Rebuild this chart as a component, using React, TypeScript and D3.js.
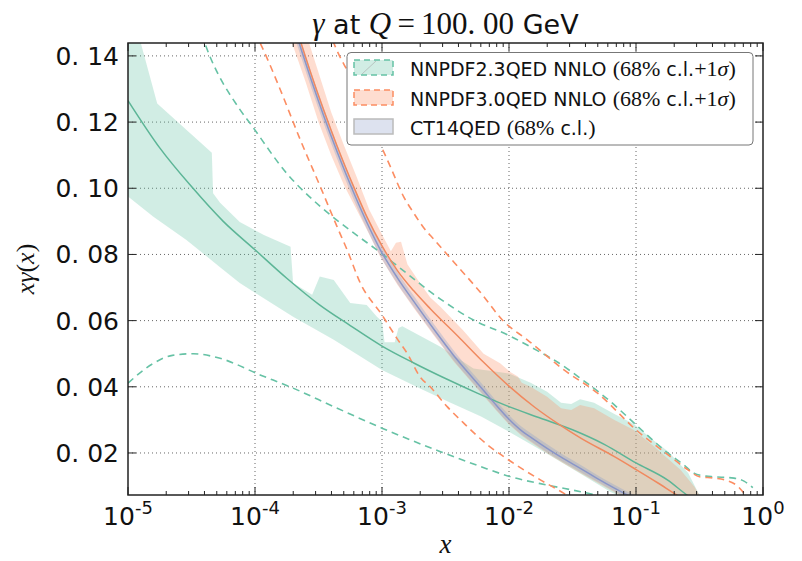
import React from 'react';
import * as d3 from 'd3';

const W = 802;
const H = 561;
const PL = 128, PR = 763, PT = 43, PB = 495;

const xTickExps = [-5, -4, -3, -2, -1, 0];
const yTicks = [0.02, 0.04, 0.06, 0.08, 0.1, 0.12, 0.14];
const yTickLabels = ['0. 02', '0. 04', '0. 06', '0. 08', '0. 10', '0. 12', '0. 14'];

// NNPDF2.3QED central (log10 x, x*gamma)
const nn23CLogX = [-5, -4.75, -4.5, -4.25, -4, -3.75, -3.5, -3.25, -3, -2.75, -2.5, -2.25, -2, -1.75, -1.5, -1.25, -1, -0.75, -0.62, -0.5];
const nn23C = [0.1265, 0.1122, 0.1005, 0.09, 0.0814, 0.0728, 0.065, 0.0585, 0.0523, 0.0472, 0.0425, 0.0381, 0.034, 0.0305, 0.027, 0.0226, 0.017, 0.0118, 0.0079, 0.0045];
// NNPDF2.3QED 68% band
const nn23UpLogX = [-5.0, -4.9, -4.77, -4.34, -4.33, -4.275, -4.12, -3.93, -3.72, -3.7, -3.55, -3.49, -3.38, -3.25, -3.12, -3.04, -3.0, -2.98, -2.9, -2.87, -2.84, -2.54, -2.28, -2.0, -1.83, -1.7, -1.59, -1.51, -1.44, -1.33, -1.17, -1.02, -0.86, -0.75, -0.59, -0.51, -0.45];
const nn23Up = [0.152, 0.144, 0.1256, 0.1107, 0.0985, 0.0956, 0.0898, 0.0859, 0.0823, 0.0714, 0.0678, 0.0733, 0.0723, 0.0653, 0.0647, 0.0612, 0.0597, 0.0535, 0.0535, 0.0578, 0.0583, 0.0521, 0.0455, 0.044, 0.0412, 0.0385, 0.0352, 0.0348, 0.0362, 0.0352, 0.0318, 0.0288, 0.0238, 0.0205, 0.014, 0.008, 0.005];
const nn23LoLogX = [-5.0, -4.8, -4.54, -4.28, -4.12, -4.0, -3.7, -3.38, -3.0, -2.7, -2.46, -2.22, -1.99, -1.88, -1.7, -1.45, -1.2, -1.0, -0.6, -0.45];
const nn23Lo = [0.0975, 0.0914, 0.0844, 0.0763, 0.0714, 0.0684, 0.0612, 0.0542, 0.0451, 0.0395, 0.0352, 0.031, 0.0262, 0.0238, 0.0198, 0.014, 0.0082, 0.0048, 0.002, 0.001];
// NNPDF2.3QED +-1 sigma (dashed)
const nn23SigUpLogX = [-4.45, -4.39, -4.117, -4.04, -3.75, -3.486, -3.226, -3.0, -2.855, -2.54, -2.28, -2.0, -1.78, -1.62, -1.435, -1.2, -1.0, -0.75, -0.623, -0.544, -0.45, -0.387, -0.228, -0.15, -0.08];
const nn23SigUp = [0.15, 0.1433, 0.1237, 0.1197, 0.1045, 0.0945, 0.0866, 0.0802, 0.0758, 0.0665, 0.0602, 0.0555, 0.051, 0.0475, 0.0425, 0.0355, 0.0285, 0.02, 0.0164, 0.0139, 0.013, 0.0128, 0.0124, 0.0115, 0.0095];
const nn23SigLoLogX = [-5.0, -4.8, -4.65, -4.485, -4.275, -3.96, -3.7, -3.38, -3.0, -2.54, -2.224, -1.987, -1.7, -1.435, -1.3];
const nn23SigLo = [0.0411, 0.0471, 0.0495, 0.05, 0.0486, 0.0436, 0.0396, 0.034, 0.0275, 0.0204, 0.0159, 0.0128, 0.0103, 0.0083, 0.0072];

// NNPDF3.0QED central
const nn30CLogX = [-3.72, -3.66, -3.565, -3.46, -3.354, -3.22, -3.117, -3.0, -2.88, -2.75, -2.62, -2.4, -2.2, -2.0, -1.8, -1.6, -1.435, -1.17, -1.0, -0.83, -0.7, -0.6];
const nn30C = [0.1537, 0.1465, 0.1353, 0.1237, 0.1128, 0.1002, 0.0912, 0.0826, 0.0752, 0.069, 0.0636, 0.0552, 0.0474, 0.0402, 0.0339, 0.0285, 0.0245, 0.0189, 0.015, 0.011, 0.0078, 0.0054];
// NNPDF3.0QED 68% band
const nn30UpLogX = [-3.85, -3.7, -3.6, -3.5, -3.4, -3.3, -3.2, -3.1, -3.0, -2.93, -2.89, -2.85, -2.8, -2.7, -2.62, -2.54, -2.36, -2.2, -2.07, -1.99, -1.93, -1.9, -1.83, -1.7, -1.59, -1.51, -1.44, -1.33, -1.17, -1.02, -0.86, -0.65, -0.54, -0.48];
const nn30Up = [0.168, 0.156, 0.147, 0.135, 0.123, 0.113, 0.1035, 0.0935, 0.086, 0.081, 0.0835, 0.0838, 0.077, 0.0713, 0.067, 0.0642, 0.057, 0.05, 0.0471, 0.0445, 0.0431, 0.0412, 0.04, 0.037, 0.0335, 0.033, 0.0345, 0.0335, 0.03, 0.027, 0.022, 0.0149, 0.0098, 0.006];
const nn30LoLogX = [-3.85, -3.7, -3.6, -3.5, -3.4, -3.3, -3.2, -3.1, -3.013, -2.88, -2.75, -2.59, -2.434, -2.277, -2.2, -2.1, -2.0, -1.9, -1.83, -1.7, -1.567, -1.435, -1.3, -1.17, -1.0];
const nn30Lo = [0.154, 0.143, 0.132, 0.12, 0.11, 0.101, 0.0935, 0.086, 0.0792, 0.0709, 0.0638, 0.0554, 0.0476, 0.0406, 0.0372, 0.0328, 0.0286, 0.0252, 0.0233, 0.0199, 0.0168, 0.0139, 0.0109, 0.0081, 0.0047];
// NNPDF3.0QED +-1 sigma (dashed)
const nn30SigUpLogX = [-3.42, -3.368, -3.25, -3.04, -2.935, -2.83, -2.75, -2.67, -2.59, -2.43, -2.224, -2.04, -1.856, -1.567, -1.3, -1.0, -0.75, -0.594, -0.5, -0.384, -0.28, -0.2, -0.147, -0.1];
const nn30SigUp = [0.148, 0.1428, 0.1338, 0.1156, 0.1066, 0.0975, 0.0925, 0.088, 0.0845, 0.0775, 0.0685, 0.0597, 0.0542, 0.0451, 0.038, 0.027, 0.0195, 0.015, 0.0128, 0.0124, 0.0116, 0.01, 0.0078, 0.006];
const nn30SigLoLogX = [-4.0, -3.946, -3.8, -3.643, -3.486, -3.354, -3.275, -3.17, -3.0, -2.88, -2.8, -2.7, -2.62, -2.487, -2.356, -2.17, -2.0, -1.75, -1.567, -1.5];
const nn30SigLo = [0.147, 0.1428, 0.1297, 0.1146, 0.1005, 0.0884, 0.0814, 0.0713, 0.0617, 0.0545, 0.05, 0.043, 0.04, 0.034, 0.029, 0.0225, 0.0178, 0.0118, 0.0078, 0.0062];

// CT14QED central and 68% band
const ctLogX = [-3.72, -3.66, -3.565, -3.46, -3.354, -3.22, -3.117, -3.013, -2.88, -2.75, -2.59, -2.434, -2.277, -2.2, -2.1, -2.0, -1.9, -1.83, -1.7, -1.567, -1.435, -1.3, -1.17, -1.0, -0.9];
const ctC = [0.1519, 0.1448, 0.1336, 0.122, 0.1111, 0.0984, 0.0895, 0.0814, 0.073, 0.0658, 0.0573, 0.0494, 0.0423, 0.0389, 0.0344, 0.0302, 0.0267, 0.0248, 0.0214, 0.0182, 0.0153, 0.0122, 0.0094, 0.006, 0.0042];
const ctUp = [0.1544, 0.1473, 0.136, 0.1243, 0.1133, 0.1005, 0.0915, 0.0833, 0.0748, 0.0675, 0.0589, 0.0509, 0.0437, 0.0403, 0.0357, 0.0315, 0.0279, 0.026, 0.0226, 0.0193, 0.0164, 0.0132, 0.0104, 0.007, 0.0052];
const ctLo = [0.1494, 0.1423, 0.1312, 0.1197, 0.1089, 0.0963, 0.0875, 0.0795, 0.0712, 0.0641, 0.0557, 0.0479, 0.0409, 0.0375, 0.0331, 0.0289, 0.0255, 0.0236, 0.0202, 0.0171, 0.0142, 0.0112, 0.0084, 0.005, 0.0032];

const legendLabels = ['NNPDF2.3QED NNLO ', 'NNPDF3.0QED NNLO ', 'CT14QED '];

const GREEN = '#66c2a5';
const GREEN_LINE = '#5cb596';
const ORANGE = '#fc8d62';
const ORANGE_LINE = '#f0895f';
const PURPLE = '#8da0cb';
const PURPLE_LINE = '#8a96c8';

const SANS = 'DejaVu Sans, sans-serif';
const SERIF = 'Liberation Serif, DejaVu Serif, serif';

export default function App() {
  const x = d3.scaleLog().domain([1e-5, 1]).range([PL, PR]);
  const y = d3.scaleLinear().domain([0.0073, 0.1439]).range([PB, PT]);

  const pts = (lx: number[], v: number[]): [number, number][] =>
    lx.map((l, i) => [x(Math.pow(10, l)), y(v[i])] as [number, number]);
  const smooth = d3.line().curve(d3.curveMonotoneX);
  const straight = d3.line();
  const band = (ulx: number[], uv: number[], llx: number[], lv: number[]) =>
    (straight([...pts(ulx, uv), ...pts(llx, lv).reverse()]) || '') + 'Z';
  const smoothBand = (ulx: number[], uv: number[], llx: number[], lv: number[]) => {
    const a = smooth(pts(ulx, uv)) || '';
    const lo = pts(llx, lv);
    const rev = d3.line().curve(d3.curveMonotoneX)(lo.slice().reverse()) || '';
    return a + 'L' + rev.slice(1) + 'Z';
  };

  const minorTicks: number[] = [];
  for (let k = -5; k < 0; k++) for (let m = 2; m <= 9; m++) minorTicks.push(m * Math.pow(10, k));

  const dash = '7,5';

  return (
    <svg width={W} height={H} style={{ position: 'fixed', left: 0, top: 0, background: '#fff' }}>
      <defs>
        <clipPath id="plot">
          <rect x={PL} y={PT} width={PR - PL} height={PB - PT} />
        </clipPath>
      </defs>
      <rect x={0} y={0} width={W} height={H} fill="#fff" />

      {/* grid */}
      <g stroke="#666" strokeWidth={1} strokeDasharray="1,3">
        {xTickExps.slice(1, -1).map((e) => (
          <line key={'gx' + e} x1={x(Math.pow(10, e))} x2={x(Math.pow(10, e))} y1={PT} y2={PB} />
        ))}
        {yTicks.map((t) => (
          <line key={'gy' + t} x1={PL} x2={PR} y1={y(t)} y2={y(t)} />
        ))}
      </g>

      <g clipPath="url(#plot)">
        <path d={band(nn23UpLogX, nn23Up, nn23LoLogX, nn23Lo)} fill={GREEN} fillOpacity={0.3} />
        <path d={band(nn30UpLogX, nn30Up, nn30LoLogX, nn30Lo)} fill={ORANGE} fillOpacity={0.3} />
        <path d={smoothBand(ctLogX, ctUp, ctLogX, ctLo)} fill={PURPLE} fillOpacity={0.35} />

        <g fill="none" strokeWidth={1.6} strokeDasharray={dash}>
          <path d={smooth(pts(nn23SigUpLogX, nn23SigUp)) || ''} stroke={GREEN} />
          <path d={smooth(pts(nn23SigLoLogX, nn23SigLo)) || ''} stroke={GREEN} />
          <path d={smooth(pts(nn30SigUpLogX, nn30SigUp)) || ''} stroke={ORANGE} />
          <path d={smooth(pts(nn30SigLoLogX, nn30SigLo)) || ''} stroke={ORANGE} />
        </g>

        <g fill="none" strokeWidth={1.5}>
          <path d={smooth(pts(nn23CLogX, nn23C)) || ''} stroke={GREEN_LINE} />
          <path d={smooth(pts(nn30CLogX, nn30C)) || ''} stroke={ORANGE_LINE} />
          <path d={smooth(pts(ctLogX, ctC)) || ''} stroke={PURPLE_LINE} />
        </g>
      </g>

      {/* ticks */}
      <g stroke="#222" strokeWidth={1}>
        {xTickExps.map((e) => {
          const px = x(Math.pow(10, e));
          return (
            <g key={'xt' + e}>
              <line x1={px} x2={px} y1={PB} y2={PB - 8} />
              <line x1={px} x2={px} y1={PT} y2={PT + 8} />
            </g>
          );
        })}
        {minorTicks.map((v, i) => {
          const px = x(v);
          return (
            <g key={'mt' + i}>
              <line x1={px} x2={px} y1={PB} y2={PB - 4} />
              <line x1={px} x2={px} y1={PT} y2={PT + 4} />
            </g>
          );
        })}
        {yTicks.map((t) => (
          <g key={'yt' + t}>
            <line x1={PL} x2={PL + 8} y1={y(t)} y2={y(t)} />
            <line x1={PR} x2={PR - 8} y1={y(t)} y2={y(t)} />
          </g>
        ))}
      </g>

      {/* frame */}
      <rect x={PL} y={PT} width={PR - PL} height={PB - PT} fill="none" stroke="#222" strokeWidth={1.5} />

      {/* y tick labels */}
      <g fontFamily={SANS} fontSize={25} fill="#111" textAnchor="end">
        {yTicks.map((t, i) => (
          <text key={'yl' + t} x={PL - 9} y={y(t) + 9}>
            {yTickLabels[i]}
          </text>
        ))}
      </g>

      {/* x tick labels */}
      <g fontFamily={SANS} fill="#111" textAnchor="middle">
        {xTickExps.map((e) => (
          <text key={'xl' + e} x={x(Math.pow(10, e))} y={525} fontSize={25}>
            10
            <tspan dy={-11} fontSize={18}>
              {e === 0 ? '0' : '-' + String(-e)}
            </tspan>
          </text>
        ))}
      </g>

      {/* axis labels */}
      <text x={(PL + PR) / 2} y={553} textAnchor="middle" fontFamily={SERIF} fontStyle="italic" fontSize={27} fill="#111">
        x
      </text>
      <text
        transform={`translate(34, ${(PT + PB) / 2}) rotate(-90)`}
        textAnchor="middle"
        fontFamily={SERIF}
        fontSize={26}
        fill="#111"
      >
        <tspan fontStyle="italic">xγ</tspan>(<tspan fontStyle="italic">x</tspan>)
      </text>

      {/* title */}
      <text x={(PL + PR) / 2} y={34} textAnchor="middle" fontSize={27} fill="#111">
        <tspan fontFamily={SERIF} fontStyle="italic" fontSize={31}>γ</tspan>
        <tspan fontFamily={SANS}> at </tspan>
        <tspan fontFamily={SERIF} fontStyle="italic" fontSize={31}>Q</tspan>
        <tspan fontFamily={SERIF} fontSize={31}>{'\u2009=\u2009100. 00'}</tspan>
        <tspan fontFamily={SANS}> GeV</tspan>
      </text>

      {/* legend */}
      <g>
        <rect x={347} y={52.5} width={406} height={92.5} rx={4} fill="#fff" stroke="#777" strokeWidth={1} />
        {[0, 1, 2].map((i) => {
          const rowY = [60, 90, 119][i];
          const fill = [GREEN, ORANGE, PURPLE][i];
          const edge = [GREEN, ORANGE, '#bbb'][i];
          return (
            <g key={'lg' + i}>
              <rect
                x={354}
                y={rowY}
                width={39}
                height={15}
                fill={fill}
                fillOpacity={0.3}
                stroke={edge}
                strokeWidth={1.5}
                strokeDasharray={i < 2 ? '6,4' : undefined}
              />
              {i === 0 && <line x1={362} y1={74} x2={376} y2={61} stroke="#aaa" strokeWidth={1} opacity={0.6} />}
              <text x={410} y={rowY + 16} fontFamily={SANS} fontSize={19} fill="#111">
                {legendLabels[i]}
                <tspan fontFamily={SERIF} fontSize={22}>(68%</tspan>
                {' c.l.'}
                {i < 2 ? (
                  <>
                    <tspan fontFamily={SERIF} fontSize={22}>+1</tspan>
                    <tspan fontFamily={SERIF} fontSize={22} fontStyle="italic">σ</tspan>
                    <tspan fontFamily={SERIF} fontSize={22}>)</tspan>
                  </>
                ) : (
                  <tspan fontFamily={SERIF} fontSize={22}>)</tspan>
                )}
              </text>
            </g>
          );
        })}
      </g>
    </svg>
  );
}
